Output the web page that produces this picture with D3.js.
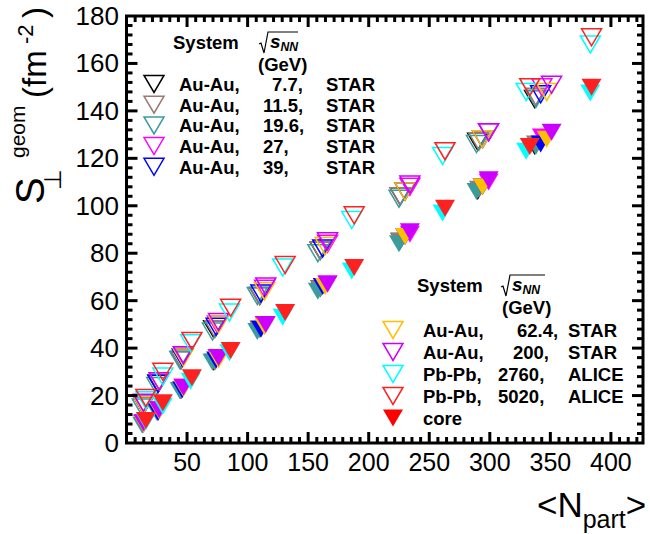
<!DOCTYPE html>
<html><head><meta charset="utf-8">
<script src="https://cdn.jsdelivr.net/npm/d3@7"></script>
<style>body{margin:0;background:#fff}svg{display:block}</style>
</head><body>
<svg id="chart" width="650" height="534"></svg>
<script>
// Participant numbers per centrality class (0-5% ... 70-80%)
const npartAuAu7p7   = [337, 290, 226, 160, 110, 72, 45, 26, 14];
const npartAuAu11p5  = [338, 291, 226, 160, 110, 73, 45, 26, 14];
const npartAuAu19p6  = [338, 289, 225, 158, 108, 71, 44, 25, 13];
const npartAuAu27    = [343, 299, 234, 166, 114, 75, 47, 27, 14];
const npartAuAu39    = [342, 294, 230, 162, 111, 74, 46, 26, 14];
const npartAuAu62p4  = [347, 294, 230, 164, 114, 76, 47, 27, 14];
const npartAuAu200   = [351, 299, 234, 166, 115, 76, 47, 27, 14];
const npartPbPb2760  = [383, 330, 261, 186, 129, 85, 53, 30, 16];
const npartPbPb5020  = [384, 333, 263, 188, 131, 86, 54, 30, 16];

// Total transverse overlap area S_perp^geom
const sTotAuAu7p7    = [145, 127, 104, 81, 62, 48, 35, 25, 16];
const sTotAuAu11p5   = [146, 127, 104, 81, 62, 48, 35, 25, 16];
const sTotAuAu19p6   = [145, 126, 103, 80, 62, 47, 35, 24, 15];
const sTotAuAu27     = [150, 131, 108, 84, 65, 50, 37, 26, 16];
const sTotAuAu39     = [147, 128, 106, 82, 63, 49, 36, 25, 16];
const sTotAuAu62p4   = [148, 128, 106, 83, 64, 50, 36, 26, 16];
const sTotAuAu200    = [151, 131, 109, 85, 66, 51, 37, 26, 17];
const sTotPbPb2760   = [168, 148, 121, 94, 74, 55, 42, 28, 18];
const sTotPbPb5020   = [171, 150, 123, 96, 75, 57, 43, 30, 19];

// Core area
const sCoreAuAu7p7   = [125, 106, 85, 65, 48, 34, 22, 13, 8];
const sCoreAuAu11p5  = [126, 107, 85, 65, 48, 34, 22, 13, 8];
const sCoreAuAu19p6  = [125, 106, 84, 64, 47, 34, 22, 13, 7.5];
const sCoreAuAu27    = [129, 110, 88, 67, 50, 36, 23.5, 14, 8.5];
const sCoreAuAu39    = [126, 108, 87, 66, 48, 35, 22.5, 13, 8];
const sCoreAuAu62p4  = [128, 108, 87, 66, 49, 35, 23, 13.5, 8];
const sCoreAuAu200   = [131, 111, 89, 67, 50, 36, 23.5, 14, 8.5];
const sCorePbPb2760  = [147.5, 123, 97, 72.5, 53, 38, 26, 15.5, 9];
const sCorePbPb5020  = [150, 125, 99, 74, 55, 39, 27.5, 17, 9.5];

const systems     = ["Au-Au,", "Au-Au,", "Au-Au,", "Au-Au,", "Au-Au,", "Au-Au,", "Au-Au,", "Pb-Pb,", "Pb-Pb,"];
const energies    = ["7.7,", "11.5,", "19.6,", "27,", "39,", "62.4,", "200,", "2760,", "5020,"];
const experiments = ["STAR", "STAR", "STAR", "STAR", "STAR", "STAR", "STAR", "ALICE", "ALICE"];
const colors      = ["#000000", "#9c7a72", "#3c9c9c", "#ff00ff", "#0000ff", "#ffbf00", "#cc00ff", "#00ffff", "#ff2020"];

const xTicks = [50, 100, 150, 200, 250, 300, 350, 400];
const yTicks = [0, 20, 40, 60, 80, 100, 120, 140, 160, 180];

const npart = [npartAuAu7p7, npartAuAu11p5, npartAuAu19p6, npartAuAu27, npartAuAu39, npartAuAu62p4, npartAuAu200, npartPbPb2760, npartPbPb5020];
const sTot  = [sTotAuAu7p7, sTotAuAu11p5, sTotAuAu19p6, sTotAuAu27, sTotAuAu39, sTotAuAu62p4, sTotAuAu200, sTotPbPb2760, sTotPbPb5020];
const sCore = [sCoreAuAu7p7, sCoreAuAu11p5, sCoreAuAu19p6, sCoreAuAu27, sCoreAuAu39, sCoreAuAu62p4, sCoreAuAu200, sCorePbPb2760, sCorePbPb5020];

const series = systems.map((s, i) => ({
  system: s, energy: energies[i], exp: experiments[i], color: colors[i],
  pts: npart[i].map((n, k) => ({ n, tot: sTot[i][k], core: sCore[i][k] }))
}));

const svg = d3.select("#chart");
const L = 126.5, R = 643, T = 16, B = 443;
const x = d3.scaleLinear().domain([0, 426.5]).range([L, R]);
const y = d3.scaleLinear().domain([0, 180]).range([B, T]);

const FONT = "'Liberation Sans', Arial, Helvetica, sans-serif";

// inverted triangle marker centred on its data point
const tri = (hw, hh) => `M${-hw},${-hh}L${hw},${-hh}L0,${hh}Z`;
const HW = 10, HH = 8.5;

// data: open markers for the total area, filled ones for the core
const plot = svg.append("g");
series.forEach(s => {
  plot.append("g").selectAll("path").data(s.pts).join("path")
    .attr("d", tri(HW, HH))
    .attr("transform", d => `translate(${x(d.n)},${y(d.tot)})`)
    .attr("fill", "none").attr("stroke", s.color).attr("stroke-width", 1.5);
});
series.forEach(s => {
  plot.append("g").selectAll("path").data(s.pts).join("path")
    .attr("d", tri(HW, HH))
    .attr("transform", d => `translate(${x(d.n)},${y(d.core)})`)
    .attr("fill", s.color).attr("stroke", "none");
});

// axes: ticks on all four sides pointing inwards
// x: 7 sub-divisions per 50, y: 5 sub-divisions per 20
const axisG = svg.append("g").attr("stroke", "#000").attr("stroke-width", 3);
const xMinor = d3.range(1, 60).map(k => k * 50 / 7).filter(v => v < 426);
const yMinor = d3.range(4, 180, 4);
xMinor.forEach((v, i) => {
  const len = (i + 1) % 7 === 0 ? 11 : 6;
  axisG.append("line").attr("x1", x(v)).attr("x2", x(v)).attr("y1", B).attr("y2", B - len);
  axisG.append("line").attr("x1", x(v)).attr("x2", x(v)).attr("y1", T).attr("y2", T + len);
});
yMinor.forEach(v => {
  const len = v % 20 === 0 ? 11 : 6;
  axisG.append("line").attr("y1", y(v)).attr("y2", y(v)).attr("x1", L).attr("x2", L + len);
  axisG.append("line").attr("y1", y(v)).attr("y2", y(v)).attr("x1", R).attr("x2", R - len);
});
svg.append("rect").attr("x", L).attr("y", T).attr("width", R - L).attr("height", B - T)
  .attr("fill", "none").attr("stroke", "#000").attr("stroke-width", 3);

svg.append("g").selectAll("text").data(xTicks).join("text")
  .attr("x", d => x(d)).attr("y", 471).attr("text-anchor", "middle")
  .attr("font-family", FONT).attr("font-size", 25).text(d => d);
svg.append("g").selectAll("text").data(yTicks).join("text")
  .attr("x", 119).attr("y", d => y(d) + 9).attr("text-anchor", "end")
  .attr("font-family", FONT).attr("font-size", 26).text(d => d);

// axis titles
const xt = svg.append("text").attr("font-family", FONT).attr("x", 537).attr("y", 517);
xt.append("tspan").attr("font-size", 35).text("<N");
xt.append("tspan").attr("font-size", 25).attr("dy", 11).text("part");
xt.append("tspan").attr("font-size", 35).attr("dy", -11).text(">");

const rot = (yStart, xBase, size, txt, fam) => svg.append("text")
  .attr("transform", `translate(${xBase},${yStart}) rotate(-90)`)
  .attr("font-family", fam || FONT).attr("font-size", size).text(txt);
rot(204, 44, 40, "S");
rot(190, 61, 24, "\u22A5", "'DejaVu Sans'");
rot(158, 25, 21, "geom");
rot(98, 46, 33, "(fm");
rot(44, 33, 22, "-2");
rot(18, 46, 33, ")");

// legends
function sqrtS(g, x0, yTop, yBot, w, base, fs) {
  g.append("path")
    .attr("d", `M${x0},${yBot - 9}L${x0 + 2},${yBot - 10}L${x0 + 5},${yBot}L${x0 + 9},${yTop}L${x0 + 9 + w},${yTop}`)
    .attr("fill", "none").attr("stroke", "#000").attr("stroke-width", 1.2);
  const t = g.append("text").attr("x", x0 + 11).attr("y", base)
    .attr("font-family", FONT).attr("font-weight", "bold").attr("font-style", "italic");
  t.append("tspan").attr("font-size", fs).text("s");
  t.append("tspan").attr("font-size", fs * 0.64).attr("dy", 3).text("NN");
}
function legend(entries, opt) {
  const g = svg.append("g").attr("font-family", FONT).attr("font-weight", "bold").attr("font-size", 18.5);
  g.append("text").attr("x", opt.sysX).attr("y", opt.headY).text("System");
  sqrtS(g, opt.sqX, opt.headY - 17, opt.headY + 4, opt.sqW, opt.headY - 1, 19);
  g.append("text").attr("x", opt.gevX).attr("y", opt.headY + 22).text("(GeV)");
  entries.forEach((e, i) => {
    const cy = opt.row0 + opt.dy * i;
    g.append("path").attr("d", tri(HW, HH)).attr("transform", `translate(${opt.mx},${cy})`)
      .attr("fill", e.filled ? e.color : "none").attr("stroke", e.filled ? "none" : e.color).attr("stroke-width", 1.5);
    g.append("text").attr("x", opt.nameX).attr("y", cy + 7).text(e.system);
    if (e.energy) g.append("text").attr("x", e.ex).attr("y", cy + 7).text(e.energy);
    if (e.exp) g.append("text").attr("x", opt.expX).attr("y", cy + 7).text(e.exp);
  });
}
const ex1 = [272, 263, 263, 263, 263];
legend(series.slice(0, 5).map((s, i) => ({ ...s, ex: ex1[i] })),
  { sysX: 173, headY: 49, sqX: 259, sqW: 30, gevX: 258, row0: 84, dy: 20.7, mx: 154, nameX: 179, expX: 326 });
const ex2 = [517, 513, 498, 498];
legend(series.slice(5).map((s, i) => ({ ...s, ex: ex2[i] })).concat([{ system: "core", color: "#ff0000", filled: true }]),
  { sysX: 417, headY: 292, sqX: 501, sqW: 35, gevX: 502, row0: 330, dy: 22, mx: 393, nameX: 423, expX: 568 });
</script>
</body></html>
